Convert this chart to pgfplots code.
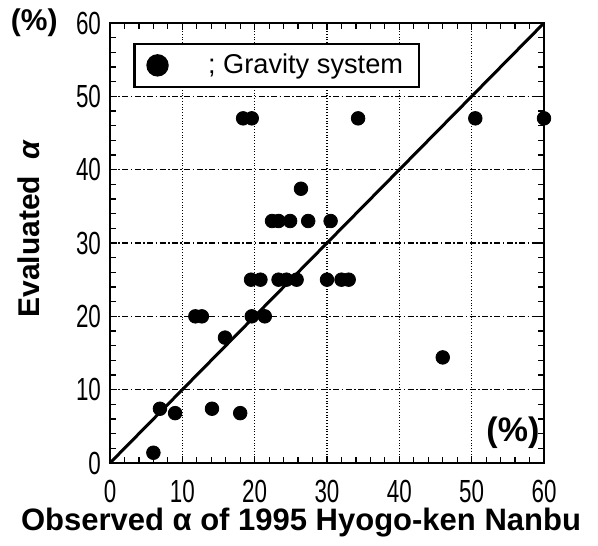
\documentclass[border=0pt]{standalone}
\usepackage{pgfplots}
\pgfplotsset{compat=1.18}
\usepackage{fontspec}
\setmainfont{Liberation Sans}
\newfontfamily\narrowfont[FakeStretch=0.7]{Liberation Sans}
\begin{document}
\begin{tikzpicture}
\useasboundingbox (-55pt,-41pt) rectangle (244pt,231.5pt);
\begin{axis}[
  at={(0,0)}, anchor=south west,
  scale only axis,
  width=217pt, height=220pt,
  xmin=0, xmax=60, ymin=0, ymax=60,
  xtick={0,10,...,60}, ytick={0,10,...,60},
  minor xtick={2,4,...,58}, minor ytick={2,4,...,58},
  tick align=inside,
  major tick length=3.5pt, minor tick length=3pt,
  every tick/.style={black, line width=0.6pt},
  axis line style={line width=1pt},
  xmajorgrids, ymajorgrids,
  major x grid style={densely dotted, line width=0.6pt, black},
  major y grid style={dash pattern=on 3pt off 1.2pt on 0.8pt off 1.2pt, line width=0.55pt, black},
  tick label style={font=\narrowfont\fontsize{16}{16}\selectfont},
  /pgf/number format/assume math mode=true,
  xticklabel style={yshift=-5pt},
  yticklabel style={xshift=-1pt},
  xlabel={\bfseries Observed α of 1995 Hyogo-ken Nanbu},
  ylabel={\bfseries Evaluated\ \ \itshape α},
  xlabel style={font=\fontsize{15.5}{15.5}\selectfont, yshift=4pt, xshift=-13pt},
  ylabel style={font=\fontsize{15}{15}\selectfont, yshift=11pt, xshift=7pt},
  clip=false,
  legend style={at={(axis cs:3.2,57.3)}, anchor=north west, draw=black, line width=1.2pt,
    font=\fontsize{13.6}{13.6}\selectfont, inner xsep=6pt, inner ysep=3pt},
  legend image code/.code={\fill[black] (0.35cm,0cm) circle (5pt);},
]
\addplot[only marks, mark=*, mark size=3.4pt, black] coordinates {
(6.0,1.4) (6.9,7.4) (9.0,6.8) (14.1,7.4) (18.0,6.8) (15.9,17.1)
(11.8,20) (12.7,20) (19.6,20) (21.4,20)
(19.5,25) (20.8,25) (23.3,25) (24.4,25) (25.8,25) (30.0,25) (32.0,25) (33.0,25)
(22.4,33) (23.3,33) (24.9,33) (27.4,33) (30.5,33)
(26.4,37.4)
(18.4,47) (19.6,47) (34.3,47) (50.5,47) (60,47)
(46.0,14.4)
};
\addlegendentry{\hspace{1.3em}; Gravity system\hspace{1.2em}}
\addplot[black, line width=1.5pt, forget plot] coordinates {(0,0) (60,60)};
\node[font=\bfseries\fontsize{15}{15}\selectfont, anchor=east, inner sep=0pt] at (axis cs:-7.2,60.0) {(\%)};
\node[font=\bfseries\fontsize{17}{17}\selectfont] at (axis cs:55.7,4.1) {(\%)};
\end{axis}
\end{tikzpicture}
\end{document}
